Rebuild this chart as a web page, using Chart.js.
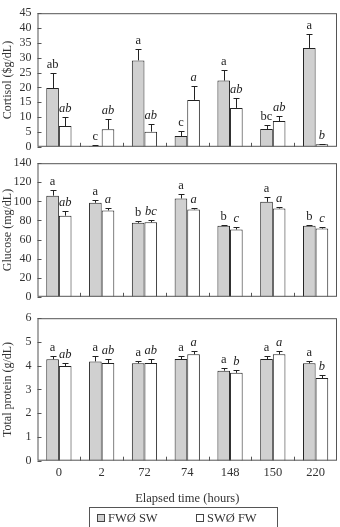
<!DOCTYPE html>
<html>
<head>
<meta charset="utf-8">
<script src="https://cdn.jsdelivr.net/npm/chart.js@4.4.1/dist/chart.umd.min.js"></script>
<style>
  html, body { margin: 0; padding: 0; background: #fff; }
  #wrap { position: relative; width: 340px; height: 527px; overflow: hidden; }
  canvas { position: absolute; left: 0; }
</style>
</head>
<body>
<div id="wrap">
  <canvas id="cortisol" width="340" height="160" style="top:0px"></canvas>
  <canvas id="glucose" width="340" height="160" style="top:150px"></canvas>
  <canvas id="protein" width="340" height="222" style="top:305px"></canvas>
</div>
<script>
const categories = ['0', '2', '72', '74', '148', '150', '220'];
const seriesNames = ['FWØ SW', 'SWØ FW'];

const cortisolFwSw = [19.8, 0.3, 29.1, 3.6, 22.3, 6.0, 33.3];
const cortisolFwSwErr = [5.0, 0.2, 3.8, 1.8, 3.4, 1.4, 4.7];
const cortisolSwFw = [7.0, 5.9, 5.1, 15.8, 13.1, 8.7, 0.9];
const cortisolSwFwErr = [3.0, 3.3, 2.6, 4.7, 3.5, 1.8, 0.2];
const cortisolFwSwLetters = ['ab', 'c', 'a', 'c', 'a', 'bc', 'a'];
const cortisolSwFwLetters = ['ab', 'ab', 'ab', 'a', 'ab', 'ab', 'b'];

const glucoseFwSw = [106, 98.5, 77.5, 103, 74.5, 99.5, 74.5];
const glucoseFwSwErr = [6, 2.6, 2, 4.3, 1.2, 4.9, 1.2];
const glucoseSwFw = [85, 90.5, 78, 91.5, 70.5, 92.5, 71.5];
const glucoseSwFwErr = [5, 2.6, 2, 2, 2.6, 1.6, 1.2];
const glucoseFwSwLetters = ['a', 'a', 'b', 'a', 'b', 'a', 'b'];
const glucoseSwFwLetters = ['ab', 'a', 'bc', 'a', 'c', 'a', 'c'];

const proteinFwSw = [4.27, 4.18, 4.10, 4.28, 3.79, 4.28, 4.10];
const proteinFwSwErr = [0.14, 0.23, 0.08, 0.12, 0.10, 0.12, 0.08];
const proteinSwFw = [3.99, 4.11, 4.11, 4.48, 3.70, 4.48, 3.48];
const proteinSwFwErr = [0.12, 0.18, 0.17, 0.12, 0.10, 0.12, 0.12];
const proteinFwSwLetters = ['a', 'a', 'a', 'a', 'a', 'a', 'a'];
const proteinSwFwLetters = ['ab', 'ab', 'ab', 'a', 'b', 'a', 'b'];

const serif = "'Liberation Serif', 'DejaVu Serif', serif";
const ink = '#333';

// frame, inward ticks, error bars and letters (+ boxed legend on the last panel)
const extras = {
    id: 'extras',
    afterDatasetsDraw(chart, args, opts) {
        const ctx = chart.ctx;
        const area = chart.chartArea;
        const x = chart.scales.x;
        const y = chart.scales.y;
        ctx.save();
        ctx.strokeStyle = '#555';
        ctx.lineWidth = 1;
        ctx.strokeRect(area.left + 0.5, area.top + 0.5, area.right - area.left - 1, area.bottom - area.top - 1);

        ctx.beginPath();
        y.ticks.forEach(t => {
            const py = Math.round(y.getPixelForValue(t.value)) + 0.5;
            ctx.moveTo(area.left, py);
            ctx.lineTo(area.left + 4, py);
        });
        for (let i = 1; i < categories.length; i++) {
            const px = Math.round((x.getPixelForValue(i - 1) + x.getPixelForValue(i)) / 2) + 0.5;
            ctx.moveTo(px, area.bottom);
            ctx.lineTo(px, area.bottom - 4);
        }
        ctx.stroke();

        ctx.strokeStyle = '#222';
        ctx.fillStyle = '#222';
        ctx.textAlign = 'center';
        ctx.textBaseline = 'bottom';
        chart.data.datasets.forEach((ds, di) => {
            const meta = chart.getDatasetMeta(di);
            const errs = opts.errs[di];
            const letters = opts.letters[di];
            ctx.font = (di === 1 ? 'italic ' : '') + '12.5px ' + serif;
            meta.data.forEach((bar, i) => {
                const top = Math.round(y.getPixelForValue(ds.data[i] + errs[i]));
                const bx = Math.round(bar.x) + 0.5;
                ctx.beginPath();
                ctx.moveTo(bx, bar.y);
                ctx.lineTo(bx, top);
                ctx.moveTo(bx - 3, top + 0.5);
                ctx.lineTo(bx + 3, top + 0.5);
                ctx.stroke();
                ctx.fillText(letters[i], bar.x, top - 2);
            });
        });

        if (opts.legend) {
            const lg = opts.legend;
            ctx.strokeStyle = '#555';
            ctx.strokeRect(lg.left + 0.5, lg.top + 0.5, lg.width, 40);
            ctx.font = '12.5px ' + serif;
            ctx.textAlign = 'left';
            ctx.textBaseline = 'middle';
            chart.data.datasets.forEach((ds, di) => {
                const bx = lg.items[di];
                ctx.fillStyle = ds.backgroundColor;
                ctx.fillRect(bx, lg.textY - 3.5, 7, 7);
                ctx.strokeStyle = '#444';
                ctx.strokeRect(bx + 0.5, lg.textY - 3.5, 7, 7);
                ctx.fillStyle = ink;
                ctx.fillText(ds.label, bx + 11, lg.textY + 1);
            });
        }
        ctx.restore();
    },
};

function makeChart(id, a, b, errA, errB, lettersA, lettersB, yOpts, pad, last) {
    const ctx = document.getElementById(id).getContext('2d');
    return new Chart(ctx, {
        type: 'bar',
        data: {
            labels: categories,
            datasets: [
                {
                    label: seriesNames[0],
                    data: a,
                    backgroundColor: '#d0d0d0',
                    borderColor: '#222',
                    borderWidth: 1,
                    borderSkipped: 'bottom',
                    categoryPercentage: 0.59,
                    barPercentage: 1,
                },
                {
                    label: seriesNames[1],
                    data: b,
                    backgroundColor: '#fff',
                    borderColor: '#222',
                    borderWidth: 1,
                    borderSkipped: 'bottom',
                    categoryPercentage: 0.59,
                    barPercentage: 1,
                },
            ],
        },
        options: {
            responsive: false,
            animation: false,
            layout: { padding: pad },
            scales: {
                x: {
                    display: last,
                    grid: { display: false, drawTicks: false },
                    border: { display: false },
                    ticks: { color: ink, font: { family: serif, size: 12.5 }, padding: 5 },
                    title: {
                        display: true,
                        text: 'Elapsed time (hours)',
                        color: ink,
                        font: { family: serif, size: 12.5 },
                        padding: { top: 8, bottom: 0 },
                    },
                    afterFit: (scale) => { if (last) scale.height = 46; },
                },
                y: {
                    min: 0,
                    max: yOpts.max,
                    grid: { display: false, drawTicks: false },
                    border: { display: false },
                    ticks: {
                        stepSize: yOpts.step,
                        autoSkip: false,
                        color: ink,
                        font: { family: serif, size: 12 },
                        padding: 6,
                    },
                    title: {
                        display: true,
                        text: yOpts.title,
                        color: ink,
                        font: { family: serif, size: 12 },
                        padding: { top: 1, bottom: 0 },
                    },
                    afterFit: (scale) => { scale.width = 37.5; },
                },
            },
            plugins: {
                legend: { display: false },
                tooltip: { enabled: false },
                extras: {
                    errs: [errA, errB],
                    letters: [lettersA, lettersB],
                    legend: last ? { left: 89, top: 202, width: 188, textY: 213, items: [97, 196] } : null,
                },
            },
        },
        plugins: [extras],
    });
}

makeChart('cortisol', cortisolFwSw, cortisolSwFw, cortisolFwSwErr, cortisolSwFwErr,
    cortisolFwSwLetters, cortisolSwFwLetters,
    { max: 45, step: 5, title: 'Cortisol ($g/dL)' },
    { top: 4, bottom: 11, left: 0, right: 3 }, false);

makeChart('glucose', glucoseFwSw, glucoseSwFw, glucoseFwSwErr, glucoseSwFwErr,
    glucoseFwSwLetters, glucoseSwFwLetters,
    { max: 140, step: 20, title: 'Glucose (mg/dL)' },
    { top: 9, bottom: 7.5, left: 0, right: 3 }, false);

makeChart('protein', proteinFwSw, proteinSwFw, proteinFwSwErr, proteinSwFwErr,
    proteinFwSwLetters, proteinSwFwLetters,
    { max: 6, step: 1, title: 'Total protein (g/dL)' },
    { top: 10.5, bottom: 20.3, left: 0, right: 3 }, true);
</script>
</body>
</html>
